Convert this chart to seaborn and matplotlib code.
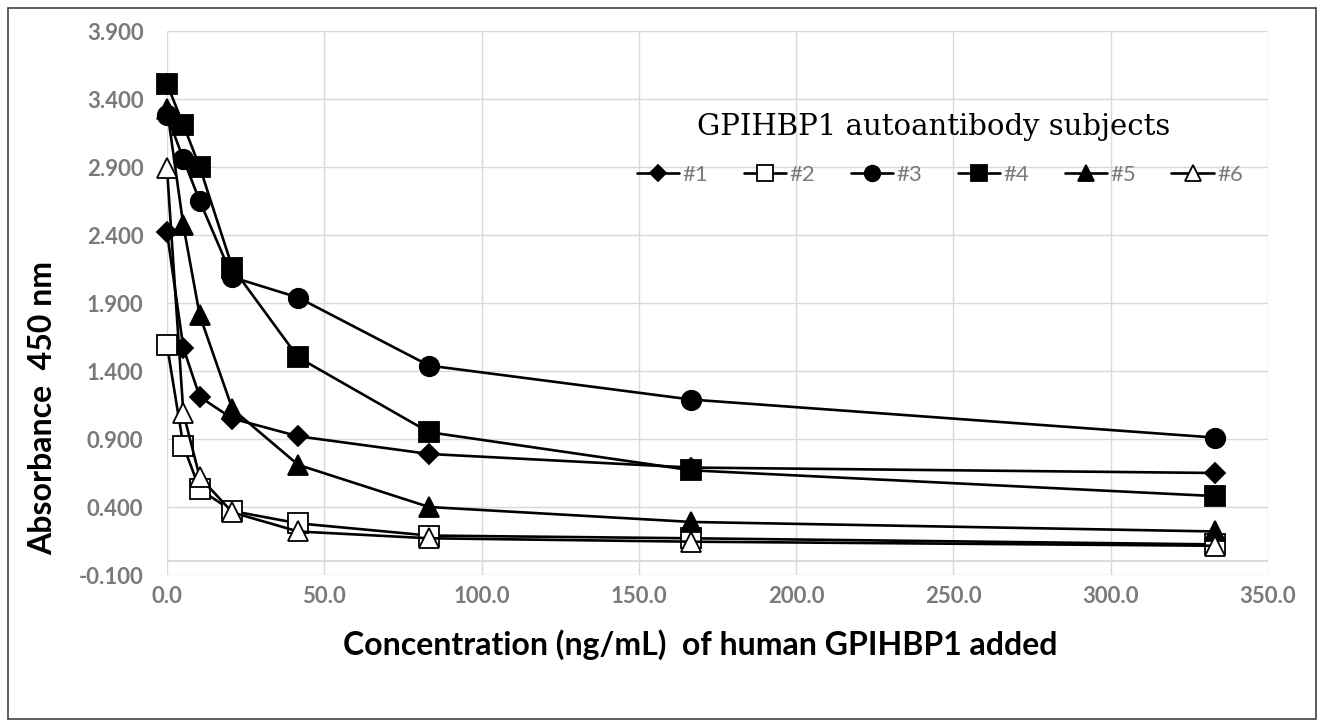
import numpy as np
import pandas as pd
import seaborn as sns
import matplotlib.pyplot as plt
from matplotlib.patches import Rectangle

# ===============================
# Data
# ===============================
conc = [0.0, 5.2, 10.4, 20.8, 41.7, 83.3, 166.7, 333.3]

s1 = [2.42, 1.57, 1.21, 1.05, 0.92, 0.79, 0.69, 0.65]
s2 = [1.59, 0.85, 0.53, 0.37, 0.28, 0.19, 0.17, 0.125]
s3 = [3.28, 2.96, 2.65, 2.09, 1.94, 1.44, 1.19, 0.91]
s4 = [3.51, 3.21, 2.90, 2.16, 1.50, 0.95, 0.67, 0.48]
s5 = [3.33, 2.47, 1.81, 1.12, 0.71, 0.40, 0.29, 0.22]
s6 = [2.89, 1.09, 0.62, 0.36, 0.22, 0.17, 0.145, 0.115]

labels = ["#1", "#2", "#3", "#4", "#5", "#6"]
series = [s1, s2, s3, s4, s5, s6]

y_ticks = [-0.1, 0.4, 0.9, 1.4, 1.9, 2.4, 2.9, 3.4, 3.9]
x_ticks = [0, 50, 100, 150, 200, 250, 300, 350]

# marker, fill, size
styles = {
    "#1": ("D", "black", 10.5),
    "#2": ("s", "white", 14),
    "#3": ("o", "black", 14),
    "#4": ("s", "black", 14),
    "#5": ("^", "black", 14),
    "#6": ("^", "white", 14),
}

W, H = 1324, 726
GRID = "#d9d9d9"
TICK = "#7a7a7a"

sns.set_theme(style="white")
plt.rcParams["font.family"] = ["Lato", "DejaVu Sans"]

fig = plt.figure(figsize=(W / 100, H / 100), dpi=100)
ax = fig.add_axes([167 / W, 1 - 575 / H, (1268 - 167) / W, (575 - 31) / H])

# chart area border
fig.patches.append(Rectangle((8 / W, 7 / H), 1308 / W, 711 / H,
                             transform=fig.transFigure, fill=False,
                             edgecolor="#404040", linewidth=1.2))

# gridlines + horizontal axis at y=0
for xt in x_ticks:
    ax.axvline(xt, color=GRID, linewidth=1.0, zorder=0)
for yt in y_ticks:
    ax.axhline(yt, color=GRID, linewidth=1.0, zorder=0)
ax.axhline(0.0, color=GRID, linewidth=1.3, zorder=0)

for lab, vals in zip(labels, series):
    mk, fc, ms = styles[lab]
    sns.lineplot(x=conc, y=vals, ax=ax, color="black", linewidth=1.9,
                 marker=mk, markersize=ms, markerfacecolor=fc,
                 markeredgecolor="black", markeredgewidth=1.3,
                 label=lab, zorder=3, clip_on=False)

ax.set_xlim(0, 350)
ax.set_ylim(-0.1, 3.9)
ax.set_xticks(x_ticks)
ax.set_yticks(y_ticks)
ax.set_xticklabels([f"{v:.1f}" for v in x_ticks], fontsize=16,
                   color=TICK, fontweight="bold")
ax.set_yticklabels([f"{v:.3f}" for v in y_ticks], fontsize=16,
                   color=TICK, fontweight="bold")
ax.tick_params(axis="both", length=0)
ax.tick_params(axis="y", pad=17)
ax.tick_params(axis="x", pad=8)
for sp in ax.spines.values():
    sp.set_visible(False)
ax.set_xlabel("")
ax.set_ylabel("")

# axis titles (positioned like the Excel original)
fig.text(700 / W, 1 - 645 / H, "Concentration (ng/mL)  of human GPIHBP1 added",
         ha="center", va="center", fontsize=23, fontweight="bold", color="black")
fig.text(43 / W, 1 - 408 / H, "Absorbance  450 nm", rotation=90,
         ha="center", va="center", fontsize=23, fontweight="bold", color="black")

# legend title + legend
fig.text(934 / W, 1 - 127 / H, "GPIHBP1 autoantibody subjects",
         ha="center", va="center", fontsize=21, family="DejaVu Serif",
         color="black")
leg = ax.legend(loc="center", bbox_to_anchor=(940 / W, 1 - 175 / H),
                bbox_transform=fig.transFigure, ncol=6, frameon=False,
                fontsize=16, handlelength=1.9, handletextpad=0.15,
                columnspacing=1.6, markerscale=0.8)
for t in leg.get_texts():
    t.set_color(TICK)

fig.savefig("out.png", dpi=100)
